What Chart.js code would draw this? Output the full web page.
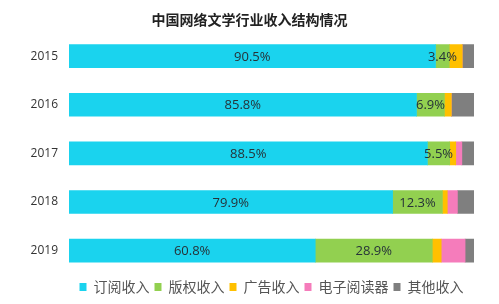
<!DOCTYPE html>
<html>
<head>
<meta charset="utf-8">
<script src="https://cdn.jsdelivr.net/npm/chart.js@4/dist/chart.umd.min.js"></script>
<style>
  html, body { margin: 0; padding: 0; background: #fff; }
  #wrap { width: 499px; height: 304px; }
</style>
</head>
<body>
<div id="wrap"><canvas id="chart" width="499" height="304"></canvas></div>
<script>
const years = ["2015", "2016", "2017", "2018", "2019"];

const subscription = [90.5, 85.8, 88.5, 79.9, 60.8];
const copyright = [3.4, 6.9, 5.5, 12.3, 28.9];
const advertising = [3.2, 1.7, 1.5, 1.2, 2.2];
const eReader = [0, 0, 1.5, 2.5, 5.9];
const other = [2.9, 5.6, 3.0, 4.1, 2.2];

const seriesNames = ["订阅收入", "版权收入", "广告收入", "电子阅读器", "其他收入"];
const seriesColors = ["#1ad3ee", "#92d050", "#ffc000", "#f57cbb", "#7f7f7f"];

const CJK = "'Noto Sans CJK SC', 'Noto Sans', sans-serif";

// only the first two series carry value labels
const segmentLabels = {
  id: "segmentLabels",
  afterDatasetsDraw(chart) {
    const ctx = chart.ctx;
    ctx.save();
    ctx.font = "13px 'Open Sans', sans-serif";
    ctx.fillStyle = "#263238";
    ctx.textAlign = "center";
    ctx.textBaseline = "middle";
    [0, 1].forEach((di) => {
      const meta = chart.getDatasetMeta(di);
      meta.data.forEach((bar, i) => {
        const v = chart.data.datasets[di].data[i];
        const x = (bar.x + bar.base) / 2;
        ctx.fillText(v.toFixed(1) + "%", x, bar.y + 1);
      });
    });
    ctx.restore();
  },
};

const values = [subscription, copyright, advertising, eReader, other];

new Chart(document.getElementById("chart").getContext("2d"), {
  type: "bar",
  data: {
    labels: years,
    datasets: values.map((d, i) => ({
      label: seriesNames[i],
      data: d,
      backgroundColor: seriesColors[i],
      borderWidth: 0,
      barThickness: 23,
    })),
  },
  options: {
    indexAxis: "y",
    responsive: false,
    animation: false,
    layout: { padding: 0 },
    plugins: {
      title: {
        display: true,
        text: "中国网络文学行业收入结构情况",
        color: "#222",
        font: { family: CJK, size: 14, weight: "bold" },
        padding: { top: 11, bottom: 4 },
      },
      legend: {
        position: "bottom",
        fullSize: false,
        labels: {
          color: "#555",
          font: { family: CJK, size: 14 },
          boxWidth: 7,
          boxHeight: 8,
          padding: 5,
        },
      },
      tooltip: { enabled: false },
    },
    scales: {
      x: {
        stacked: true,
        display: false,
        min: 0,
        max: 100,
      },
      y: {
        stacked: true,
        grid: { display: false, drawTicks: false },
        border: { display: false },
        ticks: {
          color: "#333",
          font: { family: "'Open Sans', sans-serif", size: 12 },
          padding: 11,
        },
        afterFit(scale) {
          scale.width = 69;
        },
      },
      // empty spacer on the right so the bars stop short of the edge
      spacer: {
        type: "linear",
        axis: "y",
        position: "right",
        grid: { display: false, drawTicks: false },
        border: { display: false },
        ticks: { display: false },
        afterFit(scale) {
          scale.width = 25;
        },
      },
    },
  },
  plugins: [segmentLabels],
});
</script>
</body>
</html>
